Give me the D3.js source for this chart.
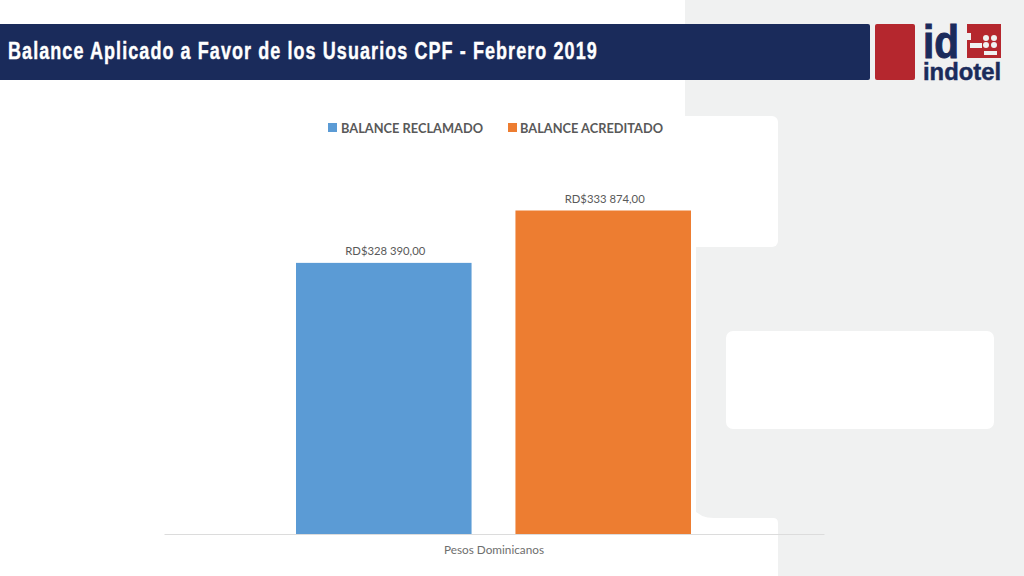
<!DOCTYPE html>
<html>
<head>
<meta charset="utf-8">
<script src="https://cdn.jsdelivr.net/npm/d3@7"></script>
<style>
html,body{margin:0;padding:0;background:#fff;overflow:hidden;}
svg{display:block;}
text{font-family:Lato,"Open Sans",sans-serif;}
</style>
</head>
<body>
<svg id="chart" width="1024" height="576"></svg>
<script>
var titleText="Balance Aplicado a Favor de los Usuarios CPF - Febrero 2019";
var categories=["Pesos Dominicanos"];
var seriesNames=["BALANCE RECLAMADO","BALANCE ACREDITADO"];
var seriesValues=[328390,333874];
var seriesLabels=["RD$328 390,00","RD$333 874,00"];
var seriesColors=["#5b9bd5","#ed7d31"];

var svg=d3.select("#chart");

// slide background, grey side panel with white cut outs
svg.append("rect").attr("x",685).attr("y",0).attr("width",339).attr("height",576).attr("fill","#f0f1f1");
svg.append("rect").attr("x",660).attr("y",247).attr("width",36).attr("height",275).attr("fill","#fff");
svg.append("path").attr("d","M692,508 Q700,518 714,518 L773,518 Q778,518 778,523 L778,576 L660,576 L660,508 Z").attr("fill","#fff");
svg.append("rect").attr("x",660).attr("y",116).attr("width",118).attr("height",131).attr("rx",6).attr("fill","#fff");
svg.append("rect").attr("x",660).attr("y",80).attr("width",25).attr("height",60).attr("fill","#fff");
svg.append("rect").attr("x",726).attr("y",331).attr("width",268).attr("height",98).attr("rx",7).attr("fill","#fff");

// header
svg.append("rect").attr("x",-6).attr("y",24).attr("width",876).attr("height",56).attr("rx",2).attr("fill","#1a2b5b");
svg.append("rect").attr("x",875).attr("y",24).attr("width",40).attr("height",56).attr("rx",2).attr("fill","#b5272e");
// narrow glyphs with wide spacing, nearest to the condensed title face
svg.append("text").attr("transform","translate(8,59) scale(0.75,1)")
	.attr("fill","#fff")
	.attr("stroke","#fff")
	.attr("stroke-width",0.4)
	.attr("textLength",785)
	.style("font-family","'Liberation Sans',sans-serif")
	.style("font-weight","700")
	.style("font-size","24px")
	.text(titleText);

// logo
svg.append("text").attr("x",923).attr("y",58).attr("fill","#1a2b5b")
	.attr("stroke","#1a2b5b").attr("stroke-width",1)
	.attr("textLength",36).attr("lengthAdjust","spacingAndGlyphs")
	.style("font-family","'Liberation Sans',sans-serif").style("font-weight","700").style("font-size","46px").text("id");
svg.append("text").attr("x",923).attr("y",80).attr("fill","#1a2b5b")
	.attr("stroke","#1a2b5b").attr("stroke-width",0.5)
	.attr("textLength",78).attr("lengthAdjust","spacingAndGlyphs")
	.style("font-family","'Liberation Sans',sans-serif").style("font-weight","700").style("font-size","24px").text("indotel");
svg.append("rect").attr("x",967).attr("y",24).attr("width",34).attr("height",34).attr("fill","#b5272e");
svg.append("rect").attr("x",963).attr("y",33).attr("width",8).attr("height",7).attr("fill","#f0f1f1");
svg.append("rect").attr("x",970).attr("y",43).attr("width",12).attr("height",5).attr("fill","#f0f1f1");
var dotX=[986,994,986,994],dotY=[38,38,45,45];
svg.selectAll(".logo-dot").data(dotX).enter().append("circle").attr("class","logo-dot")
	.attr("cx",function(d){return d;}).attr("cy",function(d,i){return dotY[i];}).attr("r",3).attr("fill","#f0f1f1");
svg.append("rect").attr("x",984).attr("y",51).attr("width",13).attr("height",4).attr("fill","#f0f1f1");

// chart
var x0=d3.scaleBand().domain(categories).range([164,824]);
var x1=d3.scaleBand().domain(seriesNames).range([x0(categories[0])+132,x0(categories[0])+527]).paddingInner(0.2).paddingOuter(0);
var y=d3.scaleLinear().domain([300000,340000]).range([534,152]);

svg.selectAll(".bar").data(seriesValues).enter().append("rect").attr("class","bar")
	.attr("x",function(d,i){return x1(seriesNames[i]);})
	.attr("y",function(d){return y(d);})
	.attr("width",x1.bandwidth())
	.attr("height",function(d){return y(300000)-y(d);})
	.attr("fill",function(d,i){return seriesColors[i];});

svg.selectAll(".bar-label").data(seriesValues).enter().append("text").attr("class","bar-label")
	.attr("x",function(d,i){return x1(seriesNames[i])+x1.bandwidth()/2+1.5;})
	.attr("y",function(d){return y(d)-8;})
	.attr("text-anchor","middle")
	.attr("fill","#595959")
	.attr("textLength",80)
	.attr("lengthAdjust","spacingAndGlyphs")
	.style("font-size","12px")
	.text(function(d,i){return seriesLabels[i];});

var xAxis=svg.append("g").attr("transform","translate(0,534)").call(d3.axisBottom(x0).tickSize(0).tickPadding(11));
xAxis.select(".domain").attr("stroke","#dcdcdc");
xAxis.selectAll("text").attr("fill","#6e6e6e").attr("textLength",100).attr("lengthAdjust","spacingAndGlyphs")
	.style("font-size","12px").style("font-family","Lato,sans-serif");

// legend
var legendX=[328,508];
var legendLen=[142,143];
var legend=svg.selectAll(".legend").data(seriesNames).enter().append("g").attr("class","legend")
	.attr("transform",function(d,i){return "translate("+legendX[i]+",123)";});
legend.append("rect").attr("width",9).attr("height",9).attr("fill",function(d,i){return seriesColors[i];});
legend.append("text").attr("x",function(d,i){return i==0?13:12;}).attr("y",9.5)
	.attr("fill","#595959")
	.attr("textLength",function(d,i){return legendLen[i];})
	.attr("lengthAdjust","spacingAndGlyphs")
	.style("font-size","14px")
	.style("font-weight","700")
	.text(function(d){return d;});
</script>
</body>
</html>
